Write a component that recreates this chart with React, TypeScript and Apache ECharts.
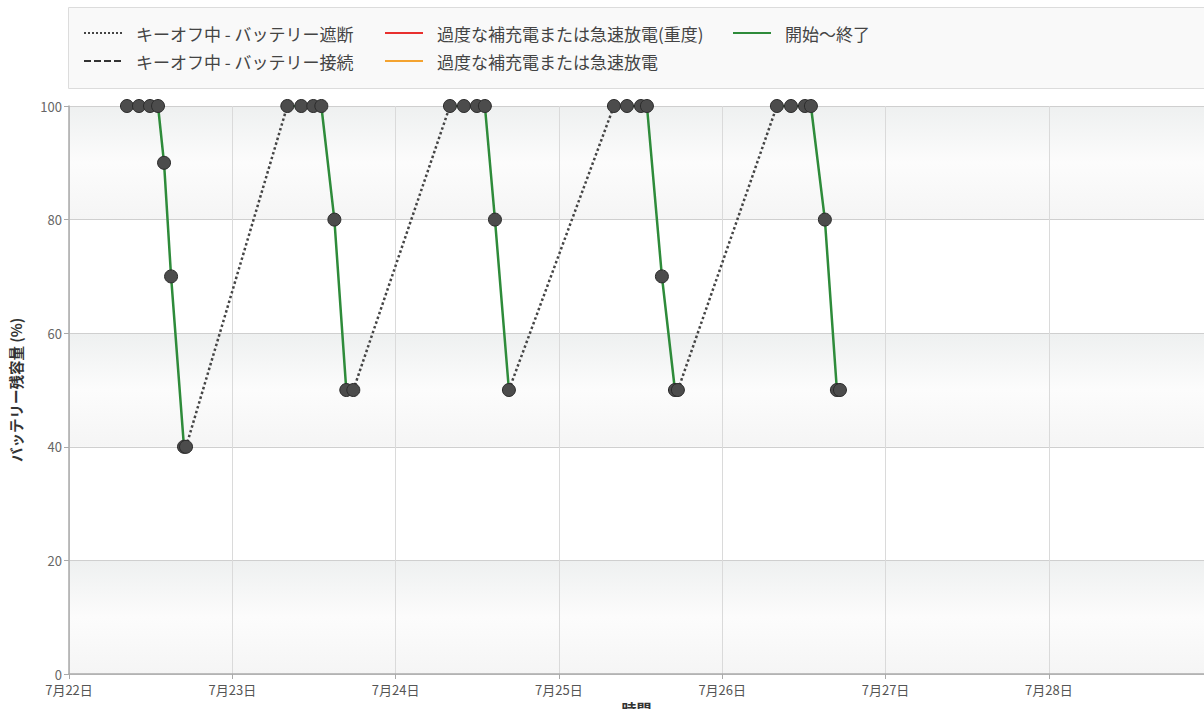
import React, { useEffect, useRef } from "react";
import * as echarts from "echarts";

// Data: [time, battery %]
const day1: [string, number][] = [
  ["2020-07-22 08:31", 100], ["2020-07-22 10:17", 100], ["2020-07-22 11:54", 100], ["2020-07-22 13:05", 100],
  ["2020-07-22 13:58", 90], ["2020-07-22 15:00", 70], ["2020-07-22 16:54", 40], ["2020-07-22 17:12", 40],
];
const day2: [string, number][] = [
  ["2020-07-23 08:05", 100], ["2020-07-23 10:08", 100], ["2020-07-23 11:54", 100], ["2020-07-23 13:05", 100],
  ["2020-07-23 15:00", 80], ["2020-07-23 16:45", 50], ["2020-07-23 17:47", 50],
];
const day3: [string, number][] = [
  ["2020-07-24 07:59", 100], ["2020-07-24 10:02", 100], ["2020-07-24 11:57", 100], ["2020-07-24 13:07", 100],
  ["2020-07-24 14:36", 80], ["2020-07-24 16:39", 50],
];
const day4: [string, number][] = [
  ["2020-07-25 08:05", 100], ["2020-07-25 10:00", 100], ["2020-07-25 12:03", 100], ["2020-07-25 12:56", 100],
  ["2020-07-25 15:08", 70], ["2020-07-25 17:03", 50], ["2020-07-25 17:29", 50],
];
const day5: [string, number][] = [
  ["2020-07-26 08:02", 100], ["2020-07-26 10:06", 100], ["2020-07-26 12:09", 100], ["2020-07-26 13:02", 100],
  ["2020-07-26 15:05", 80], ["2020-07-26 16:51", 50], ["2020-07-26 17:18", 50],
];
const drives = [day1, day2, day3, day4, day5];

const NAME_OFF_CUT = "キーオフ中 - バッテリー遮断";
const NAME_OFF_CONN = "キーオフ中 - バッテリー接続";
const NAME_SEVERE = "過度な補充電または急速放電(重度)";
const NAME_WARN = "過度な補充電または急速放電";
const NAME_DRIVE = "開始～終了";

const X_MIN = "2020-07-22 00:00";
const X_MAX = "2020-07-28 22:48";
const Y_TICKS = [0, 20, 40, 60, 80, 100];

export default function App() {
  const ref = useRef<HTMLDivElement>(null);
  useEffect(() => {
    document.body.style.margin = "0";
    const chart = echarts.init(ref.current!, null, { renderer: "svg" });
    const font = "'Noto Sans CJK JP', 'Noto Sans', sans-serif";
    const band = new echarts.graphic.LinearGradient(0, 0, 0, 1, [
      { offset: 0, color: "#eef0f0" },
      { offset: 0.5, color: "#fcfcfc" },
      { offset: 1, color: "#f5f5f5" },
    ]);
    const series: any[] = [];
    drives.forEach((d) => {
      series.push({
        name: NAME_DRIVE, type: "line", data: d, symbol: "none",
        lineStyle: { color: "#2e8b3a", width: 2.5 }, itemStyle: { color: "#2e8b3a" }, z: 3,
      });
    });
    for (let i = 0; i < drives.length - 1; i++) {
      const a = drives[i][drives[i].length - 1];
      const b = drives[i + 1][0];
      series.push({
        name: NAME_OFF_CUT, type: "line", data: [a, b], symbol: "none",
        lineStyle: { color: "#444", width: 2.5, type: "dotted" }, itemStyle: { color: "#333" }, z: 2,
      });
    }
    series.push({
      name: NAME_OFF_CONN, type: "line", data: [], symbol: "none",
      lineStyle: { color: "#333", width: 3, type: [7, 3] }, itemStyle: { color: "#333" },
    });
    series.push({
      name: NAME_SEVERE, type: "line", data: [], symbol: "none",
      lineStyle: { color: "#e8302e", width: 2 }, itemStyle: { color: "#e8302e" },
    });
    series.push({
      name: NAME_WARN, type: "line", data: [], symbol: "none",
      lineStyle: { color: "#f4a330", width: 2 }, itemStyle: { color: "#f4a330" },
    });
    series.push({
      name: "points", type: "scatter", data: drives.flat(), symbolSize: 13,
      itemStyle: { color: "#4c4c4c", borderColor: "#2b2b2b", borderWidth: 1, opacity: 1 }, z: 5,
    });

    const legendCommon = {
      orient: "vertical", itemWidth: 38, itemHeight: 14, itemGap: 8, top: 23, padding: 0,
      itemStyle: { opacity: 0 },
      textStyle: { fontFamily: font, fontSize: 17, color: "#444", lineHeight: 20, padding: [0, 0, 0, 9] },
      selectedMode: false,
    };
    chart.setOption({
      animation: false,
      backgroundColor: "#fff",
      graphic: [{
        type: "rect", shape: { x: 68.5, y: 7.5, width: 1150, height: 81 },
        style: { fill: "#f9f9f9", stroke: "#dcdcdc", lineWidth: 1 }, z: -10,
      }],
      legend: [
        { ...legendCommon, left: 83, data: [NAME_OFF_CUT, NAME_OFF_CONN] },
        { ...legendCommon, left: 384, data: [NAME_SEVERE, NAME_WARN] },
        { ...legendCommon, left: 732, data: [NAME_DRIVE] },
      ],
      grid: { left: 69, right: 0, top: 106, bottom: 35, outerBoundsMode: "none", containLabel: false },
      xAxis: {
        type: "time",
        min: X_MIN, max: X_MAX,
        minInterval: 86400000, maxInterval: 86400000,
        name: "時間", nameLocation: "middle", nameGap: 23,
        nameTextStyle: { fontFamily: font, fontSize: 15, fontWeight: "bold", color: "#333" },
        axisLine: { lineStyle: { color: "#aaa", width: 1.5 } },
        axisTick: { show: true, length: 5, lineStyle: { color: "#aaa" } },
        axisLabel: {
          fontFamily: font, fontSize: 13, color: "#555", margin: 9, showMaxLabel: false, showMinLabel: true,
          formatter: (v: number) => { const d = new Date(v); return `${d.getMonth() + 1}月${d.getDate()}日`; },
        },
        splitLine: { show: true, lineStyle: { color: "#dadada", width: 1 } },
      },
      yAxis: {
        type: "value", min: Y_TICKS[0], max: Y_TICKS[Y_TICKS.length - 1], interval: 20,
        name: "バッテリー残容量 (%)", nameLocation: "middle", nameGap: 46, nameRotate: 90,
        nameTextStyle: { fontFamily: font, fontSize: 14.5, fontWeight: "bold", color: "#333" },
        axisLine: { show: true, lineStyle: { color: "#aaa", width: 1.5 } },
        axisTick: { show: true, length: 5, lineStyle: { color: "#aaa" } },
        axisLabel: { fontFamily: font, fontSize: 13, color: "#666", margin: 7 },
        splitLine: { show: true, lineStyle: { color: "#cfcfcf", width: 1 } },
        splitArea: { show: true, areaStyle: { color: [band, "#ffffff"] } },
      },
      series,
    });
    return () => chart.dispose();
  }, []);
  return <div ref={ref} style={{ width: 1204, height: 709 }} />;
}
